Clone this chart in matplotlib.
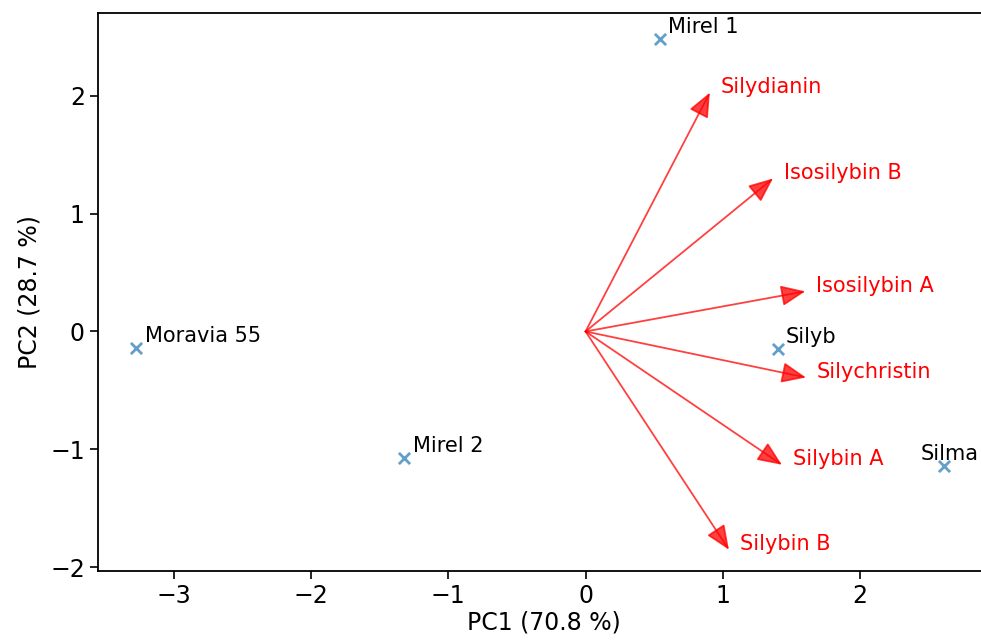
import matplotlib
matplotlib.use('Agg')
import matplotlib.pyplot as plt

# sample scores
sample_names = ['Mirel 1', 'Moravia 55', 'Mirel 2', 'Silyb', 'Silma']
pc1 = [0.54, -3.27, -1.32, 1.40, 2.61]
pc2 = [2.48, -0.14, -1.07, -0.15, -1.14]

# loadings (arrow tips)
var_names = ['Silydianin', 'Isosilybin B', 'Isosilybin A', 'Silychristin', 'Silybin A', 'Silybin B']
load1 = [0.905, 1.365, 1.60, 1.605, 1.43, 1.044]
load2 = [2.025, 1.297, 0.34, -0.39, -1.13, -1.85]

fig = plt.figure(figsize=(9.81, 6.44), dpi=100)
ax = fig.add_axes([0.0999, 0.1134, 0.910, 0.8665])

# biplot arrows
for name, x, y in zip(var_names, load1, load2):
    ax.annotate('', xy=(x, y), xytext=(0, 0),
                arrowprops=dict(arrowstyle='-|>,head_length=0.75,head_width=0.32',
                                mutation_scale=20, color='red', alpha=0.75, lw=1.3,
                                shrinkA=0, shrinkB=0))
    ax.annotate(name, xy=(x, y), xytext=(8, 4), textcoords='offset points',
                color='red', fontsize=15, ha='left', va='center')

# samples
ax.scatter(pc1, pc2, marker='x', s=65, linewidths=2, color='tab:blue', alpha=0.7, zorder=3)
for name, x, y in zip(sample_names, pc1, pc2):
    if name == 'Silma':
        ax.text(x - 0.17, y + 0.05, name, fontsize=15, color='black')
    else:
        ax.text(x + 0.06, y + 0.05, name, fontsize=15, color='black')

ax.set_xlim(-3.55, 2.95)
ax.set_ylim(-2.03, 2.70)
ax.set_xticks([-3, -2, -1, 0, 1, 2])
ax.set_yticks([-2, -1, 0, 1, 2])
ax.tick_params(labelsize=17, width=1.2, length=6)
for s in ax.spines.values():
    s.set_linewidth(1.3)
ax.set_xlabel('PC1 (70.8 %)', fontsize=17, labelpad=2)
ax.set_ylabel('PC2 (28.7 %)', fontsize=17, labelpad=6)

plt.savefig('out.png', dpi=100)
plt.close()
